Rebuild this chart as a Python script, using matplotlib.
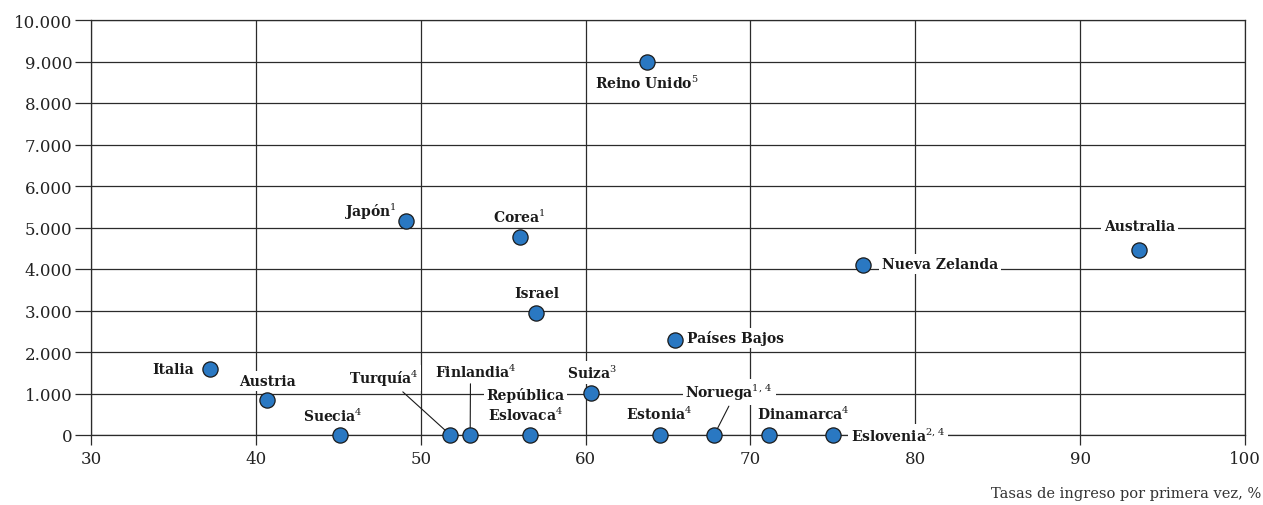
import matplotlib
matplotlib.use('Agg')
import matplotlib.pyplot as plt
from matplotlib.ticker import FuncFormatter, MultipleLocator

# Données
paises = ['Reino Unido$^{5}$', 'Japón$^{1}$', 'Corea$^{1}$', 'Australia', 'Nueva Zelanda',
          'Israel', 'Países Bajos', 'Italia', 'Austria', 'Suiza$^{3}$',
          'República\nEslovaca$^{4}$', 'Turquía$^{4}$', 'Finlandia$^{4}$', 'Suecia$^{4}$',
          'Estonia$^{4}$', 'Noruega$^{1,\\,4}$', 'Dinamarca$^{4}$', 'Eslovenia$^{2,\\,4}$']
tasas = [63.7, 49.1, 56.0, 93.6, 76.8,
         57.0, 65.4, 37.2, 40.7, 60.3,
         56.6, 51.8, 53.0, 45.1,
         64.5, 67.8, 71.1, 75.0]
valores = [9000, 5150, 4770, 4460, 4100,
           2950, 2290, 1590, 840, 1010,
           0, 0, 0, 0,
           0, 0, 0, 0]

# Placement des étiquettes (décalage en pixels, ha, ligne de rappel)
etiquettes = {
    'Reino Unido$^{5}$': ((0, -21), 'center', None),
    'Japón$^{1}$': ((-9, 10), 'right', None),
    'Corea$^{1}$': ((0, 21), 'center', None),
    'Australia': ((0, 24), 'center', None),
    'Nueva Zelanda': ((19, 1), 'left', None),
    'Israel': ((1, 20), 'center', None),
    'Países Bajos': ((12, 2), 'left', None),
    'Italia': ((-16, 0), 'right', None),
    'Austria': ((0, 19), 'center', None),
    'Suiza$^{3}$': ((1, 21), 'center', None),
    'República\nEslovaca$^{4}$': ((-4, 30), 'center', None),
    'Turquía$^{4}$': ((-67, 57), 'center', (0.72, 0)),
    'Finlandia$^{4}$': ((6, 64), 'center', (0.43, 0)),
    'Suecia$^{4}$': ((-7, 20), 'center', None),
    'Estonia$^{4}$': ((-1, 22), 'center', None),
    'Noruega$^{1,\\,4}$': ((15, 43), 'center', (0.52, 0)),
    'Dinamarca$^{4}$': ((35, 22), 'center', None),
    'Eslovenia$^{2,\\,4}$': ((18, 0), 'left', None),
}

plt.rcParams['font.family'] = 'DejaVu Serif'
plt.rcParams['mathtext.fontset'] = 'dejavuserif'

fig = plt.figure(figsize=(12.63, 5.06), dpi=100)
ax = fig.add_axes([91 / 1263, 1 - 436 / 506, (1245 - 91) / 1263, (436 - 21) / 506])

grid_color = '#2b2b2b'
ax.set_xlim(30, 100)
ax.set_ylim(0, 10000)
ax.xaxis.set_major_locator(MultipleLocator(10))
ax.yaxis.set_major_locator(MultipleLocator(1000))
ax.yaxis.set_major_formatter(FuncFormatter(lambda v, p: f'{int(v):,}'.replace(',', '.')))
ax.grid(True, color=grid_color, linewidth=0.9, zorder=0)
ax.set_axisbelow(True)
for s in ax.spines.values():
    s.set_color(grid_color)
    s.set_linewidth(0.9)
ax.tick_params(axis='y', direction='out', length=11.5, width=0.9, color=grid_color,
               labelsize=12, pad=2, labelcolor='#222222')
ax.tick_params(axis='x', direction='out', length=7, width=0.9, color=grid_color,
               labelsize=12, pad=4, labelcolor='#222222')

ax.scatter(tasas, valores, s=120, color='#2a78c2', edgecolor='#1a1a1a', linewidth=0.9,
           zorder=5, clip_on=False)

for nom, x, y in zip(paises, tasas, valores):
    (dx, dy), ha, rel = etiquettes[nom]
    props = None
    if rel is not None:
        props = dict(arrowstyle='-', color='#1a1a1a', lw=0.8, relpos=rel,
                     shrinkA=1, shrinkB=0)
    ax.annotate(nom, xy=(x, y), xytext=(dx, dy), textcoords='offset pixels',
                ha=ha, va='center', multialignment='center', fontsize=10,
                fontweight='bold', color='#1a1a1a', zorder=4,
                bbox=dict(boxstyle='square,pad=0.2', facecolor='white', edgecolor='none'),
                arrowprops=props, annotation_clip=False)

fig.text(1261 / 1263, 1 - 494 / 506, 'Tasas de ingreso por primera vez, %',
         ha='right', va='center', fontsize=10.5, color='#333333')

plt.savefig('out.png', dpi=100, facecolor='white')
